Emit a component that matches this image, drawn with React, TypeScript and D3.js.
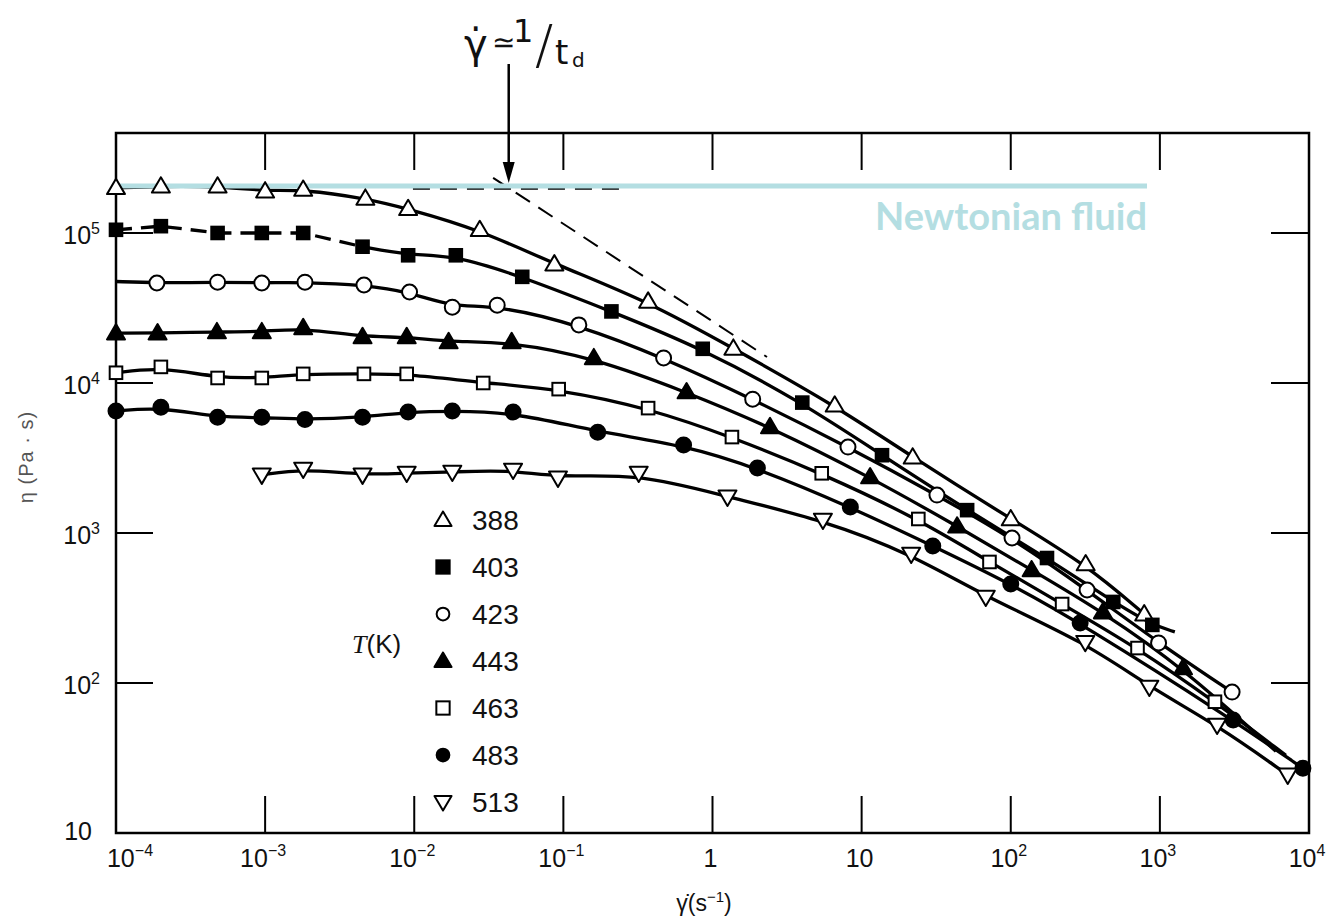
import React from 'react'
import * as d3 from 'd3'

// viscosity curves of a polymer melt
// each point: [shear rate (1/s), viscosity (Pa s)]
const temps = ['388', '403', '423', '443', '463', '483', '513']
const symbols = ['triUp', 'square', 'circle', 'triUp', 'square', 'circle', 'triDown']
const filled = [false, true, false, true, false, true, false]

const s388 = [[1e-4, 2.0e5], [2e-4, 2.05e5], [4.8e-4, 2.05e5], [1e-3, 1.9e5], [1.8e-3, 1.95e5], [4.7e-3, 1.7e5],
  [9.1e-3, 1.45e5], [2.75e-2, 1.05e5], [8.7e-2, 6.2e4], [0.37, 3.5e4], [1.38, 1.7e4], [6.6, 7.1e3], [22, 3.2e3],
  [100, 1.24e3], [318, 621], [785, 288]]
const s403 = [[1e-4, 1.05e5], [2e-4, 1.11e5], [4.8e-4, 1.0e5], [9.5e-4, 1.0e5], [1.8e-3, 1.0e5], [4.5e-3, 8.1e4],
  [9.1e-3, 7.1e4], [1.9e-2, 7.1e4], [5.3e-2, 5.1e4], [0.21, 3.0e4], [0.86, 1.69e4], [4.0, 7.4e3], [13.7, 3.3e3],
  [51, 1.42e3], [175, 681], [487, 347], [890, 244]]
const s423 = [[1.88e-4, 4.64e4], [4.8e-4, 4.7e4], [9.5e-4, 4.64e4], [1.85e-3, 4.7e4], [4.6e-3, 4.5e4], [9.3e-3, 4.04e4],
  [1.8e-2, 3.2e4], [3.6e-2, 3.3e4], [0.127, 2.44e4], [0.47, 1.47e4], [1.86, 7.8e3], [8.1, 3.74e3], [32, 1.79e3],
  [102, 926], [325, 417], [980, 185], [3050, 87]]
const s443 = [[1e-4, 2.15e4], [1.9e-4, 2.15e4], [4.75e-4, 2.19e4], [9.5e-4, 2.19e4], [1.8e-3, 2.33e4], [4.5e-3, 2.03e4],
  [8.9e-3, 2.03e4], [1.7e-2, 1.88e4], [4.5e-2, 1.88e4], [0.16, 1.47e4], [0.67, 8.7e3], [2.43, 5.1e3], [11.4, 2.36e3],
  [43.7, 1.11e3], [138, 567], [415, 297], [1430, 126]]
const s463 = [[1e-4, 1.17e4], [2e-4, 1.28e4], [4.8e-4, 1.08e4], [9.5e-4, 1.08e4], [1.8e-3, 1.15e4], [4.6e-3, 1.15e4],
  [8.9e-3, 1.15e4], [2.9e-2, 1.0e4], [9.3e-2, 9.1e3], [0.37, 6.8e3], [1.35, 4.36e3], [5.4, 2.5e3], [24, 1.24e3],
  [72, 641], [221, 336], [708, 171], [2340, 75]]
const s483 = [[1e-4, 6.5e3], [2e-4, 6.9e3], [4.8e-4, 5.9e3], [9.5e-4, 5.9e3], [1.85e-3, 5.7e3], [4.5e-3, 5.9e3],
  [9.1e-3, 6.4e3], [1.8e-2, 6.5e3], [4.6e-2, 6.4e3], [0.17, 4.7e3], [0.64, 3.86e3], [2.0, 2.71e3], [8.4, 1.49e3],
  [30, 819], [100, 457], [292, 251], [3100, 56.7], [9100, 27]]
const s513 = [[9.5e-4, 2.44e3], [1.8e-3, 2.67e3], [4.5e-3, 2.44e3], [8.9e-3, 2.51e3], [1.8e-2, 2.55e3], [4.6e-2, 2.63e3],
  [9.2e-2, 2.33e3], [0.32, 2.51e3], [1.26, 1.74e3], [5.5, 1.22e3], [21.5, 724], [68, 374], [316, 187], [850, 94],
  [2420, 52.5], [7200, 24.4]]
const seriesPts = [s388, s403, s423, s443, s463, s483, s513]

// where the drawn fit lines run past the first / last symbol
const lineStart = [null, null, [1e-4, 4.75e4], null, null, null, null]
const lineEnd = [null, [1260, 219], null, [6000, 35], [7000, 33], null, null]
// the 403 K fit is dashed at low rates
const dashedUntil = [0, 4.5e-3, 0, 0, 0, 0, 0]

const xTickExp = [-4, -3, -2, -1, 0, 1, 2, 3, 4]
const xTickLabels = [['10', '−4'], ['10', '−3'], ['10', '−2'], ['10', '−1'], ['1', ''], ['10', ''], ['10', '2'], ['10', '3'], ['10', '4']]
const yTickExp = [1, 2, 3, 4, 5]
const yTickLabels = [['10', ''], ['10', '2'], ['10', '3'], ['10', '4'], ['10', '5']]

const newtonianEta = 2.06e5
const newtonianSpan = [1e-4, 820]
const plateauDash = [[9.8e-3, 1.97e5], [0.24, 1.97e5]]
const powerLawDash = [[0.0338, 2.33e5], [2.32, 1.49e4]]
const arrowRate = 0.043

const sans = '"Liberation Sans", Arial, Helvetica, sans-serif'
const teal = '#b4dee2'

function Marker({ kind, fill, cx, cy, s = 1 }) {
  const f = fill ? '#000' : '#fff'
  const sw = 2
  if (kind === 'triUp') {
    const a = 9 * s
    return <polygon points={`${cx},${cy - a} ${cx - a},${cy + a * 0.7} ${cx + a},${cy + a * 0.7}`} fill={f} stroke="#000" strokeWidth={sw} strokeLinejoin="round" />
  }
  if (kind === 'triDown') {
    const a = 9 * s
    return <polygon points={`${cx},${cy + a} ${cx - a},${cy - a * 0.7} ${cx + a},${cy - a * 0.7}`} fill={f} stroke="#000" strokeWidth={sw} strokeLinejoin="round" />
  }
  if (kind === 'square') {
    const h = 7 * s
    return <rect x={cx - h} y={cy - h} width={2 * h} height={2 * h} fill={f} stroke="#000" strokeWidth={sw} />
  }
  return <circle cx={cx} cy={cy} r={7.5 * s} fill={f} stroke="#000" strokeWidth={sw} />
}

export default function App() {
  const x = d3.scaleLog().domain([1e-4, 1e4]).range([116, 1309])
  const y = d3.scaleLog().domain([10, 4.64e5]).range([833, 133])
  const [x0, x1] = x.range()
  const [y0, y1] = y.range()

  const smooth = d3.line().x(d => x(d[0])).y(d => y(d[1])).curve(d3.curveBasis)
  const straight = d3.line().x(d => x(d[0])).y(d => y(d[1]))

  const paths = []
  seriesPts.forEach((pts, i) => {
    let all = pts.slice()
    if (lineStart[i]) all = [lineStart[i], ...all]
    if (lineEnd[i]) all = [...all, lineEnd[i]]
    if (dashedUntil[i] > 0) {
      const k = all.findIndex(p => p[0] >= dashedUntil[i])
      paths.push(<path key={'d' + i} d={straight(all.slice(0, k + 1))} fill="none" stroke="#000" strokeWidth={3.3} strokeDasharray="16 9" />)
      paths.push(<path key={'s' + i} d={smooth(all.slice(k))} fill="none" stroke="#000" strokeWidth={3.3} />)
    } else {
      paths.push(<path key={'s' + i} d={smooth(all)} fill="none" stroke="#000" strokeWidth={3.3} />)
    }
  })

  const ax = x(arrowRate)

  return (
    <svg width={1330} height={922} style={{ position: 'absolute', left: 0, top: 0, background: '#fff' }} fontFamily={sans}>
      <rect x={0} y={0} width={1330} height={922} fill="#fff" />

      {/* frame and inward ticks */}
      <rect x={x0} y={y1} width={x1 - x0} height={y0 - y1} fill="none" stroke="#000" strokeWidth={2.5} />
      {xTickExp.slice(1, -1).map(e => (
        <g key={'xt' + e} stroke="#000" strokeWidth={2}>
          <line x1={x(10 ** e)} x2={x(10 ** e)} y1={y0} y2={y0 - 37} />
          <line x1={x(10 ** e)} x2={x(10 ** e)} y1={y1} y2={y1 + 37} />
        </g>
      ))}
      {yTickExp.slice(1).map(e => (
        <g key={'yt' + e} stroke="#000" strokeWidth={2}>
          <line x1={x0} x2={x0 + 37} y1={y(10 ** e)} y2={y(10 ** e)} />
          <line x1={x1} x2={x1 - 38} y1={y(10 ** e)} y2={y(10 ** e)} />
        </g>
      ))}

      {/* tick labels */}
      {xTickExp.map((e, i) => (
        <text key={'xl' + e} x={x(10 ** e) + (i === 0 ? 14 : -2)} y={867} textAnchor="middle" fontSize={25} fill="#111">
          {xTickLabels[i][0]}
          {xTickLabels[i][1] && <tspan dy={-11} fontSize={16}>{xTickLabels[i][1]}</tspan>}
        </text>
      ))}
      {yTickExp.map((e, i) => (
        <text key={'yl' + e} x={i === 0 ? 92 : 100} y={y(10 ** e) + (i === 0 ? 7 : 11)} textAnchor="end" fontSize={25} fill="#111">
          {yTickLabels[i][0]}
          {yTickLabels[i][1] && <tspan dy={-10} fontSize={16}>{yTickLabels[i][1]}</tspan>}
        </text>
      ))}

      {/* axis titles */}
      <text transform="translate(33,457) rotate(-90)" textAnchor="middle" fontSize={20} fill="#555" letterSpacing={1}>η (Pa · s)</text>
      <text x={704} y={911} textAnchor="middle" fontSize={23} fill="#111">
        γ̇(s<tspan dy={-9} fontSize={15}>−1</tspan><tspan dy={9}>)</tspan>
      </text>

      {/* reference lines */}
      <path d={straight(powerLawDash)} stroke="#000" strokeWidth={2} strokeDasharray="17 10" fill="none" />
      <path d={straight(plateauDash)} stroke="#000" strokeWidth={2} strokeDasharray="17 10" fill="none" />

      {paths}

      <line x1={x(newtonianSpan[0])} x2={x(newtonianSpan[1])} y1={y(newtonianEta)} y2={y(newtonianEta)} stroke={teal} strokeWidth={5} />
      <text x={x(newtonianSpan[1])} y={y(newtonianEta) + 44} textAnchor="end" fontSize={38} fontWeight={700} fill={teal} fontFamily="Lato, 'Open Sans', sans-serif">Newtonian fluid</text>

      {/* data symbols */}
      {seriesPts.map((pts, i) => pts.map((p, j) => (
        <Marker key={i + '-' + j} kind={symbols[i]} fill={filled[i]} cx={x(p[0])} cy={y(p[1])} s={symbols[i] === 'square' ? 0.9 : 1} />
      )))}

      {/* legend */}
      <text x={352} y={653} fontSize={26} fill="#111">
        <tspan fontFamily='"Liberation Serif", serif' fontStyle="italic">T</tspan>(K)
      </text>
      {temps.map((t, i) => (
        <g key={'lg' + t}>
          <Marker kind={symbols[i]} fill={filled[i]} cx={443} cy={520 + i * 47} s={symbols[i] === 'circle' ? 0.85 : 0.95} />
          <text x={472} y={530 + i * 47} fontSize={28} fill="#111">{t}</text>
        </g>
      ))}

      {/* hand-written annotation with arrow */}
      <text fill="#111" fontFamily='"DejaVu Sans", sans-serif'>
        <tspan x={464} y={58} fontSize={40}>γ̇</tspan>
        <tspan x={492} y={52} fontSize={28}>≃</tspan>
        <tspan x={513} y={42} fontSize={32}>1</tspan>
        <tspan x={535} y={63} fontSize={54} fontWeight={300}>/</tspan>
        <tspan x={555} y={64} fontSize={34}>t</tspan>
        <tspan x={572} y={67} fontSize={20}>d</tspan>
      </text>
      <line x1={ax} x2={ax} y1={64} y2={168} stroke="#000" strokeWidth={2.5} />
      <polygon points={`${ax - 6},${162} ${ax + 6},${162} ${ax},${183}`} fill="#000" />
    </svg>
  )
}
